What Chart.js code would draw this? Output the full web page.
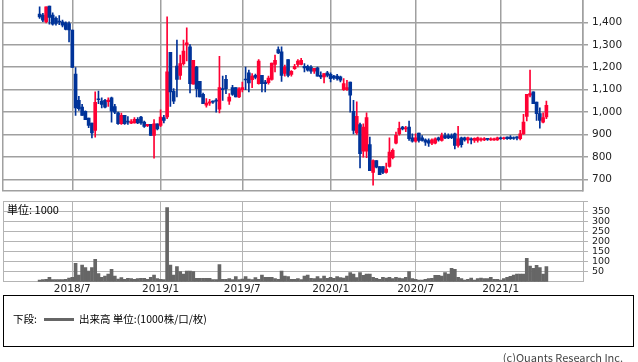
<!DOCTYPE html>
<html>
<head>
<meta charset="utf-8">
<script src="https://cdn.jsdelivr.net/npm/chart.js@4.4.1/dist/chart.umd.min.js"></script>
<style>
  body { margin: 0; background: #fff; width: 638px; height: 362px; overflow: hidden; position: relative; font-family: "Noto Sans CJK JP", sans-serif; }
  #price { position: absolute; left: 0; top: 0; }
  #vol { position: absolute; left: 0; top: 196px; }
  .unit { position: absolute; left: 7px; top: 202px; font-size: 11px; line-height: 15px; color: #000; }
  .legend { position: absolute; left: 3px; top: 295px; width: 631px; height: 52px; border: 1px solid #000; box-sizing: border-box; }
  .legend span { position: absolute; top: 15px; font-size: 10.5px; line-height: 16px; color: #000; white-space: nowrap; }
  .legend i { position: absolute; left: 40px; top: 22px; width: 30px; height: 3px; background: #666; }
  .copy { position: absolute; right: 15px; top: 349px; font-size: 11px; line-height: 16px; color: #444; }
</style>
</head>
<body>
<canvas id="price" width="638" height="192"></canvas>
<canvas id="vol" width="638" height="100"></canvas>
<div class="unit">単位: 1000</div>
<div class="legend"><span style="left:9px">下段:</span><i></i><span style="left:75px">出来高 単位:(1000株/口/枚)</span></div>
<div class="copy">(c)Quants Research Inc.</div>
<script>
// weekly candles, index 0 = week of 2018/4/23
const opens = [1437,1433,1403,1473,1433,1418,1405,1403,1398,1395,
  1366,1169,1052,1022,1003,973,951,918,1058,1049,
  1052,1046,1063,1025,997,948,985,957,950,952,
  967,978,955,939,945,896,948,940,975,978,
  1266,1093,1205,1164,1216,1300,1291,1124,1201,1137,
  1079,1031,1040,1046,1052,1013,1104,1146,1049,1109,
  1109,1067,1100,1146,1175,1145,1164,1127,1164,1134,
  1131,1146,1213,1279,1269,1172,1234,1168,1194,1213,
  1213,1204,1204,1201,1183,1197,1164,1157,1175,1168,
  1160,1160,1157,1100,1100,1134,1003,907,944,825,
  825,855,731,784,757,757,731,757,796,861,
  903,933,925,933,885,870,906,885,876,873,
  861,861,885,873,895,895,895,903,851,885,
  885,876,881,873,873,876,876,881,876,876,
  876,885,881,888,888,886,888,881,903,981,
  1075,1090,1044,993,955,978];
const highs = [1470,1440,1470,1473,1443,1425,1430,1410,1403,1403,
  1366,1199,1070,1034,1005,973,951,1090,1094,1064,
  1057,1064,1067,1034,1000,995,985,980,966,975,
  975,981,960,945,945,966,948,1010,985,1425,
  1266,1105,1321,1254,1321,1376,1301,1231,1204,1137,
  1085,1060,1057,1050,1060,1249,1160,1164,1082,1119,
  1109,1109,1134,1201,1187,1172,1170,1234,1164,1142,
  1160,1219,1254,1291,1291,1210,1234,1185,1213,1234,
  1240,1216,1210,1207,1195,1201,1179,1172,1182,1175,
  1164,1168,1160,1149,1142,1134,1052,1046,951,948,
  997,888,787,784,757,757,772,885,836,911,
  955,936,936,960,903,903,906,895,881,881,
  881,885,888,906,906,903,903,906,936,888,
  888,888,885,885,888,885,886,883,885,884,
  888,888,888,890,895,890,891,918,990,1079,
  1187,1090,1044,1019,997,1049];
const lows = [1418,1403,1398,1392,1388,1388,1390,1380,1366,1313,
  1199,985,1007,985,966,930,885,888,1037,1019,
  1019,1025,955,993,945,945,945,945,948,950,
  948,945,932,935,896,794,920,935,951,970,
  1025,1037,1067,1146,1209,1228,1085,1124,1067,1067,
  1037,1022,1030,1038,1000,996,1052,1082,1034,1074,
  1067,1064,1090,1100,1090,1109,1148,1124,1090,1090,
  1124,1142,1179,1261,1137,1160,1157,1160,1190,1201,
  1210,1179,1182,1172,1172,1160,1149,1130,1157,1134,
  1146,1142,1134,1097,1097,1000,903,900,751,799,
  796,739,674,751,721,725,727,754,791,858,
  897,920,912,873,866,866,866,870,851,847,
  855,858,870,870,881,881,881,836,843,843,
  870,861,858,865,866,870,872,873,873,873,
  873,878,878,878,878,878,876,876,900,960,
  1067,1037,963,928,951,970];
const closes = [1425,1410,1470,1422,1392,1395,1402,1388,1369,1366,
  1199,1019,1015,985,966,940,907,1043,1055,1034,
  1022,1053,1004,1000,948,985,948,955,958,967,
  951,951,936,945,896,948,925,978,963,1179,
  1090,1049,1146,1216,1272,1309,1127,1231,1104,1067,
  1037,1040,1046,1044,1049,1109,1100,1104,1067,1079,
  1067,1104,1109,1143,1130,1160,1154,1227,1127,1127,
  1152,1219,1231,1264,1164,1201,1164,1182,1204,1228,
  1231,1197,1187,1183,1195,1160,1157,1172,1164,1149,
  1152,1149,1142,1127,1109,1075,918,981,814,933,
  975,739,784,754,721,731,746,821,829,896,
  927,925,930,881,870,885,873,873,866,861,
  876,881,876,895,885,885,886,851,881,855,
  876,885,876,883,885,881,882,878,881,881,
  885,881,885,881,881,882,885,903,955,1079,
  1082,1037,993,963,975,1030];
const volumes = [8,10,12,22,10,10,10,10,12,18,
  22,92,33,83,70,53,70,112,40,22,
  28,38,62,28,13,20,12,17,15,12,
  15,17,17,12,22,33,15,12,10,370,
  83,33,75,50,38,53,53,50,17,17,
  17,17,17,10,10,85,12,12,15,10,
  25,10,13,25,13,10,20,12,33,22,
  22,22,15,12,53,28,25,12,12,15,
  10,28,33,17,15,25,15,28,17,22,
  17,25,20,18,28,45,38,20,45,32,
  38,38,22,17,12,22,18,22,15,22,
  18,15,22,50,15,12,8,8,12,15,
  17,32,32,28,45,38,67,62,22,15,
  8,12,18,8,15,18,15,15,22,12,
  12,8,15,22,27,33,38,38,38,117,
  78,67,82,70,38,75];
const tickLabels = ['2018/7', '2019/1', '2019/7', '2020/1', '2020/7', '2021/1'];
const tickWeeks = [10, 37, 62, 89, 115, 141];
const priceTicks = [700, 800, 900, 1000, 1100, 1200, 1300, 1400];
const volTicks = [50, 100, 150, 200, 250, 300, 350, 400];

const UP = '#ff0033', DOWN = '#003399';
const X_MIN = -11.2, X_MAX = 166.2;
const axisFont = { family: 'DejaVu Sans', size: 10.5 };

const candleColors = closes.map((c, i) => c >= opens[i] ? UP : DOWN);

function xAxis(showLabels, color, width) {
  return {
    type: 'linear', min: X_MIN, max: X_MAX, offset: false,
    afterBuildTicks: s => { s.ticks = [X_MIN, ...tickWeeks, X_MAX].map(v => ({ value: v })); },
    ticks: {
      display: showLabels, autoSkip: false, maxRotation: 0, padding: 1,
      color: '#222', font: axisFont,
      callback: v => { const k = tickWeeks.indexOf(v); return k < 0 ? '' : tickLabels[k]; }
    },
    grid: { color: color, lineWidth: width, drawTicks: false, offset: false },
    border: { color: color, width: width },
    afterFit: s => { s.height = showLabels ? 14.3 : 0; s.paddingLeft = 0; s.paddingRight = 0; }
  };
}

function yAxis(min, max, tickVals, fmt, font, color, width) {
  return {
    type: 'linear', position: 'right', min: min, max: max,
    afterBuildTicks: s => { s.ticks = tickVals.map(v => ({ value: v })); },
    ticks: { autoSkip: false, padding: 4, color: '#222', font: font, callback: fmt },
    grid: { color: color, lineWidth: width, drawTicks: true, tickLength: 5 },
    border: { color: color, width: width },
    afterFit: s => { s.width = 55; s.paddingTop = 0; s.paddingBottom = 0; }
  };
}

new Chart(document.getElementById('price'), {
  type: 'bar',
  data: {
    datasets: [
      {
        data: opens.map((o, i) => ({ x: i, y: [o, closes[i]] })),
        backgroundColor: candleColors, barThickness: 3, minBarLength: 1, grouped: false
      },
      {
        data: highs.map((h, i) => ({ x: i, y: [lows[i], h] })),
        backgroundColor: candleColors, barThickness: 1, minBarLength: 1, grouped: false
      }
    ]
  },
  options: {
    responsive: false, animation: false, devicePixelRatio: 1,
    layout: { padding: { left: 3, top: 0, right: 0, bottom: 1.5 } },
    plugins: { legend: { display: false }, tooltip: { enabled: false } },
    scales: {
      x: xAxis(false, '#a0a0a0', 1.5),
      y: yAxis(650, 1500, priceTicks, v => v.toLocaleString('en-US'), axisFont, '#a0a0a0', 1.5)
    }
  }
});

new Chart(document.getElementById('vol'), {
  type: 'bar',
  data: {
    datasets: [{
      data: volumes.map((v, i) => ({ x: i, y: v })),
      backgroundColor: '#666666', barThickness: 3, grouped: false
    }]
  },
  options: {
    responsive: false, animation: false, devicePixelRatio: 1,
    layout: { padding: { left: 3, top: 5.7, right: 0, bottom: 0 } },
    plugins: { legend: { display: false }, tooltip: { enabled: false } },
    scales: {
      x: xAxis(true, '#b4b4b4', 1),
      y: yAxis(0, 400, volTicks, v => v === 400 ? '' : v, { family: 'DejaVu Sans', size: 9.5 }, '#b4b4b4', 1)
    }
  }
});
</script>
</body>
</html>
